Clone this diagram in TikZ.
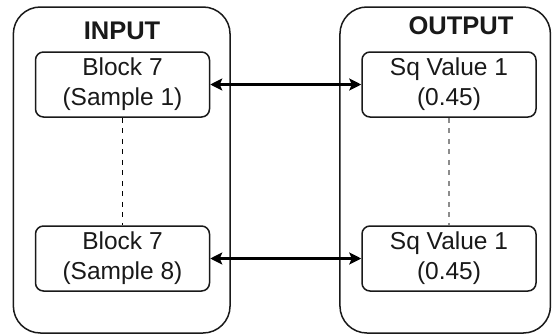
\documentclass[tikz,border=0pt]{standalone}
\usepackage{fontspec}
\setmainfont{Liberation Sans}
\usetikzlibrary{arrows.meta}
\begin{document}
\begin{tikzpicture}[x=1pt,y=-1pt,
  container/.style={draw=black!90, line width=1.5pt, rounded corners=27pt, minimum width=#1, minimum height=326pt, inner sep=0pt},
  block/.style={draw=black!90, line width=1.5pt, rounded corners=8pt, minimum width=174pt, minimum height=65pt, align=center, inner sep=0pt, font=\fontsize{24.5}{30}\selectfont, text=black!90},
  title/.style={font=\fontsize{25.5}{30}\selectfont\bfseries, anchor=base, inner sep=0pt, text=black!90},
  link/.style={{Stealth[length=12pt,width=12pt,inset=2.5pt]}-{Stealth[length=12pt,width=12pt,inset=2.5pt]}, line width=2.2pt, black},
  dots/.style={dash pattern=on 5pt off 5.5pt, line width=#1},
]
\useasboundingbox (0,0) rectangle (552,335);
\node[container=216.7pt] (inbox) at (121.7,170) {};
\node[container=210.5pt] (outbox) at (445.2,170) {};
\node[title] (intitle) at (122,39) {INPUT};
\node[title] (outtitle) at (461,34) {OUTPUT};
\node[block] (in1) at (122.5,84.5) {Block 7\\(Sample 1)};
\node[block] (in8) at (122.5,258.5) {Block 7\\(Sample 8)};
\node[block] (out1) at (449,84.5) {Sq Value 1\\(0.45)};
\node[block] (out8) at (449,258.5) {Sq Value 1\\(0.45)};
\draw[link] (in1.east) -- (out1.west);
\draw[link] (in8.east) -- (out8.west);
\draw[dots=1.3pt, black] (in1.south) -- (in8.north);
\draw[dots=2.2pt, black!45] (out1.south) -- (out8.north);
\end{tikzpicture}
\end{document}
